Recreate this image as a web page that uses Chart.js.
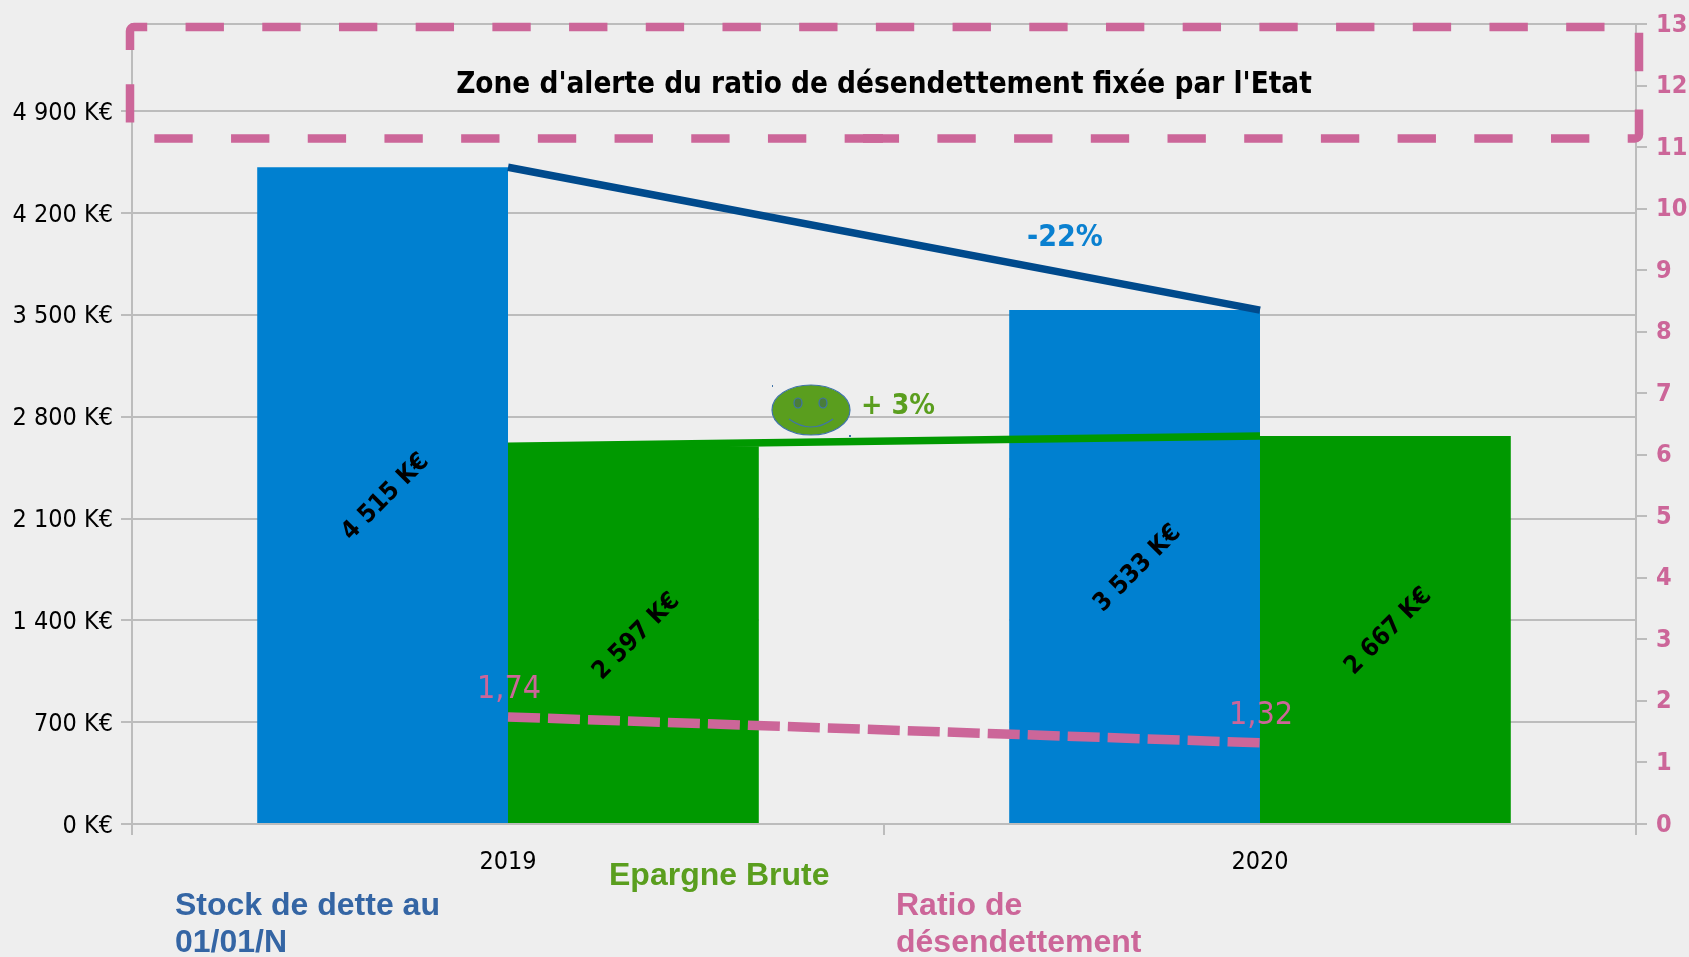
<!DOCTYPE html>
<html>
<head>
<meta charset="utf-8">
<title>Ratio de désendettement</title>
<script src="https://cdn.jsdelivr.net/npm/chart.js@4"></script>
<style>
    html, body { margin: 0; padding: 0; background: #eeeeee; }
    #wrap { width: 1689px; height: 957px; overflow: hidden; }
</style>
</head>
<body>
<div id="wrap"><canvas id="ratioChart" width="1689" height="957"></canvas></div>
<script>
const years = ['2019', '2020'];
const stockDette = [4515, 3533];
const epargneBrute = [2597, 2667];
const ratio = [1.74, 1.32];
const leftTicks = [0, 700, 1400, 2100, 2800, 3500, 4200, 4900, 5500];
const rightTicks = [0, 1, 2, 3, 4, 5, 6, 7, 8, 9, 10, 11, 12, 13];
const alertZone = [11.14, 12.95];

const PINK = '#cc6699';
const GRID = '#bcbcbc';
const FONT = '"DejaVu Sans Condensed", "DejaVu Sans"';

function euros(value) {
    return String(value).replace(/\B(?=(\d{3})+$)/g, ' ') + ' K€';
}

function drawText(ctx, text, x, y, font, color, align) {
    ctx.font = font;
    ctx.fillStyle = color;
    ctx.textAlign = align || 'left';
    ctx.textBaseline = 'middle';
    ctx.fillText(text, x, y);
}

// the gap between the two groups is masked in the original slide
const maskPlugin = {
    id: 'mask',
    beforeDatasetsDraw(chart) {
        const { ctx, scales } = chart;
        const green = chart.getDatasetMeta(1).data[0];
        const blue = chart.getDatasetMeta(0).data[1];
        ctx.save();
        ctx.fillStyle = '#eeeeee';
        ctx.fillRect(green.x + green.width / 2, scales.y.getPixelForValue(epargneBrute[0]),
            blue.x - blue.width / 2 - green.x - green.width / 2,
            scales.y.getPixelForValue(0) - scales.y.getPixelForValue(epargneBrute[0]) - 1);
        ctx.restore();
    }
};

const overlayPlugin = {
    id: 'overlay',
    afterDatasetsDraw(chart) {
        const { ctx, scales } = chart;
        ctx.save();

        // value labels turned 45 degrees in the bars
        [0, 1].forEach(function (d) {
            chart.getDatasetMeta(d).data.forEach(function (bar, i) {
                const values = d === 0 ? stockDette : epargneBrute;
                ctx.save();
                ctx.translate(bar.x + 3, (bar.y + bar.base) / 2 + 2);
                ctx.rotate(-Math.PI / 4);
                drawText(ctx, euros(values[i]), 0, 0, 'bold 25px ' + FONT, '#000000', 'center');
                ctx.restore();
            });
        });

        // ratio labels
        chart.getDatasetMeta(4).data.forEach(function (pt, i) {
            drawText(ctx, ratio[i].toFixed(2).replace('.', ','), pt.x + 1, pt.y - 27, '32px ' + FONT, PINK, 'center');
        });

        // alert zone: two dashed paths that meet in the bottom edge, as in the original
        const x0 = scales.x.left - 2, x1 = scales.x.right + 3;
        const y0 = scales.y2.getPixelForValue(alertZone[1]), y1 = scales.y2.getPixelForValue(alertZone[0]);
        const r = 4;
        ctx.strokeStyle = PINK;
        ctx.lineWidth = 8.5;
        ctx.setLineDash([38.35, 38.35]);
        ctx.beginPath();
        ctx.moveTo(x0, y0 + 23);
        ctx.arcTo(x0, y0, x0 + 15, y0, r);
        ctx.arcTo(x1, y0, x1, y1, r);
        ctx.arcTo(x1, y1, x0, y1, r);
        ctx.lineTo(863, y1);
        ctx.stroke();
        ctx.beginPath();
        ctx.moveTo(883, y1);
        ctx.arcTo(x0, y1, x0, y0, r);
        ctx.lineTo(x0, y0 + 23);
        ctx.stroke();
        ctx.setLineDash([]);

        drawText(ctx, "Zone d'alerte du ratio de désendettement fixée par l'Etat", 884, 85, 'bold 29.4px ' + FONT, '#000000', 'center');
        drawText(ctx, '-22%', 1027, 238, 'bold 30px ' + FONT, '#0a80d0');
        drawText(ctx, '+ 3%', 861, 407, 'bold 28.5px ' + FONT, '#5a9e1e');

        // smiley
        ctx.fillStyle = '#5a9e1e';
        ctx.strokeStyle = '#3f74a8';
        ctx.lineWidth = 1.2;
        ctx.beginPath();
        ctx.ellipse(811, 410, 39, 25, 0, 0, Math.PI * 2);
        ctx.fill();
        ctx.stroke();
        ctx.fillStyle = '#4a7d3a';
        [798, 823].forEach(function (ex) {
            ctx.beginPath();
            ctx.ellipse(ex, 403, 4, 5, 0, 0, Math.PI * 2);
            ctx.fill();
            ctx.stroke();
        });
        ctx.beginPath();
        ctx.moveTo(789, 419);
        ctx.quadraticCurveTo(811, 435, 833, 419);
        ctx.stroke();
        ctx.fillStyle = '#3f74a8';
        ctx.fillRect(772, 385, 1, 2);
        ctx.fillRect(849, 435, 2, 2);

        // legend text sits loose under the chart
        const legendFont = 'bold 32px "Liberation Sans"';
        drawText(ctx, 'Stock de dette au', 175, 906, legendFont, '#3465a4');
        drawText(ctx, '01/01/N', 175, 943, legendFont, '#3465a4');
        drawText(ctx, 'Epargne Brute', 609, 876, legendFont, '#5a9e1e');
        drawText(ctx, 'Ratio de', 896, 906, legendFont, PINK);
        drawText(ctx, 'désendettement', 896, 943, legendFont, PINK);

        ctx.restore();
    }
};

new Chart(document.getElementById('ratioChart').getContext('2d'), {
    type: 'bar',
    data: {
        labels: years,
        datasets: [
            { label: 'Stock de dette au 01/01/N', data: stockDette, backgroundColor: '#0080d0', yAxisID: 'y', order: 4 },
            { label: 'Epargne Brute', data: epargneBrute, backgroundColor: '#009900', yAxisID: 'y', order: 5 },
            { type: 'line', label: 'Evolution dette', data: stockDette, borderColor: '#004a8c', borderWidth: 7.5, pointRadius: 0, tension: 0, yAxisID: 'y', order: 3 },
            { type: 'line', label: 'Evolution épargne', data: epargneBrute, borderColor: '#009900', borderWidth: 7.5, pointRadius: 0, tension: 0, yAxisID: 'y', order: 2 },
            { type: 'line', label: 'Ratio de désendettement', data: ratio, borderColor: PINK, borderWidth: 9.5, borderDash: [32, 8], pointRadius: 0, tension: 0, yAxisID: 'y2', order: 1 }
        ]
    },
    options: {
        responsive: false,
        animation: false,
        layout: { padding: { top: 23, left: 0, right: 0, bottom: 0 } },
        datasets: { bar: { barPercentage: 1, categoryPercentage: 0.667 } },
        plugins: { legend: { display: false }, tooltip: { enabled: false } },
        scales: {
            x: {
                grid: { offset: true, drawOnChartArea: false, color: GRID, lineWidth: 2, tickLength: 11 },
                border: { color: GRID, width: 2 },
                ticks: { color: '#000000', font: { family: FONT, size: 25 }, padding: 12, maxRotation: 0 },
                afterFit: function (s) { s.height = 133; }
            },
            y: {
                position: 'left',
                min: 0,
                max: 5500,
                afterBuildTicks: function (s) { s.ticks = leftTicks.map(function (v) { return { value: v }; }); },
                grid: {
                    color: GRID,
                    lineWidth: 2,
                    tickLength: 11,
                    tickColor: function (c) { return c.tick && c.tick.value === 5500 ? 'rgba(0,0,0,0)' : GRID; }
                },
                border: { color: GRID, width: 2 },
                ticks: {
                    color: '#000000',
                    font: { family: FONT, size: 25 },
                    padding: 8,
                    labelOffset: 2,
                    callback: function (v) { return v === 5500 ? '' : euros(v); }
                },
                afterFit: function (s) { s.width = 132; }
            },
            y2: {
                position: 'right',
                min: 0,
                max: 13,
                afterBuildTicks: function (s) { s.ticks = rightTicks.map(function (v) { return { value: v }; }); },
                grid: { drawOnChartArea: false, color: GRID, lineWidth: 2, tickLength: 11 },
                border: { color: GRID, width: 2 },
                ticks: { color: PINK, font: { family: FONT, size: 25, weight: 'bold' }, padding: 9, labelOffset: 1, autoSkip: false },
                afterFit: function (s) { s.width = 53; }
            }
        }
    },
    plugins: [maskPlugin, overlayPlugin]
});
</script>
</body>
</html>
